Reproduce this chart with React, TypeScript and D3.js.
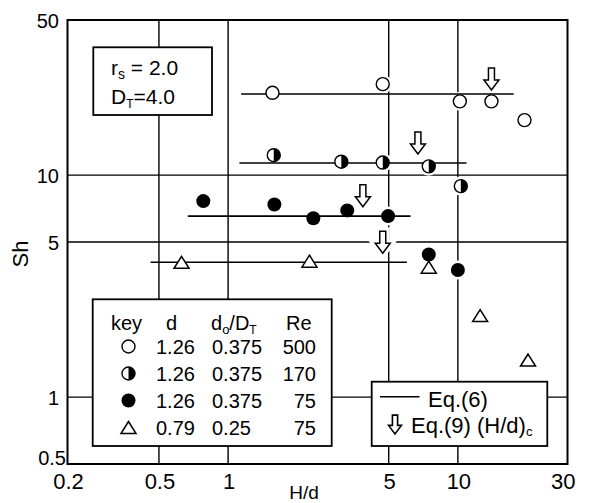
import React from "react"
import * as d3 from "d3"

// values (H/d vs Sh)
const openX = [1.56, 4.71, 10.2, 14.0, 19.5]
const openY = [23.5, 25.7, 21.5, 21.5, 17.7]
const halfX = [1.58, 3.11, 4.71, 7.47, 10.3]
const halfY = [12.3, 11.5, 11.4, 10.96, 8.93]
const fullX = [0.78, 1.59, 2.35, 3.3, 4.97, 7.47, 10.0]
const fullY = [7.64, 7.38, 6.4, 6.94, 6.54, 4.39, 3.74]
const triX = [0.627, 2.26, 7.47, 12.5, 20.2]
const triY = [4.05, 4.1, 3.85, 2.33, 1.47]

// Eq.(6) lines: start, end, level
const eqStart = [1.14, 1.12, 0.668, 0.46]
const eqEnd = [17.5, 10.9, 6.22, 6.0]
const eqLevel = [23.2, 11.35, 6.54, 4.05]

// Eq.(9) (H/d)c arrows: x and tip level
const critX = [14.0, 6.7, 3.86, 4.71]
const critTip = [24.2, 12.45, 7.21, 4.45]

const xTicks = [0.2, 0.5, 1, 5, 10, 30]
const yTicks = [50, 10, 5, 1, 0.5]
const xGrid = [0.5, 1, 5, 10]
const yGrid = [10, 5, 1]

const legendRows = [
  { key: "open", d: "1.26", ratio: "0.375", re: "500" },
  { key: "half", d: "1.26", ratio: "0.375", re: "170" },
  { key: "full", d: "1.26", ratio: "0.375", re: "75" },
  { key: "tri", d: "0.79", ratio: "0.25", re: "75" },
]

const font = "'Liberation Sans', Arial, sans-serif"

const left = 67.5, right = 567.5, top = 20, bottom = 464
const x = d3.scaleLog().domain([0.2, 30]).range([left, right])
const y = d3.scaleLog().domain([50, 0.5]).range([top, bottom])

const arrowPath = (cx: number, ty: number, k = 1) =>
  `M${cx - 3 * k},${ty - 22 * k} L${cx + 3 * k},${ty - 22 * k} L${cx + 3 * k},${ty - 10 * k} L${cx + 7.5 * k},${ty - 10 * k} L${cx},${ty} L${cx - 7.5 * k},${ty - 10 * k} L${cx - 3 * k},${ty - 10 * k} Z`

function Marker({ kind, cx, cy }: { kind: string; cx: number; cy: number }) {
  if (kind === "open")
    return <circle cx={cx} cy={cy} r={6.5} fill="white" stroke="black" strokeWidth={1.4} />
  if (kind === "half") {
    const r = 6.5
    return (
      <g>
        <circle cx={cx} cy={cy} r={r} fill="white" stroke="black" strokeWidth={1.4} />
        <path d={`M${cx},${cy - r} A${r},${r} 0 0 1 ${cx},${cy + r} Z`} fill="black" />
      </g>
    )
  }
  if (kind === "full") return <circle cx={cx} cy={cy} r={7} fill="black" />
  const h = 12, w = 15
  return (
    <path
      d={`M${cx},${cy - h / 2} L${cx + w / 2},${cy + h / 2} L${cx - w / 2},${cy + h / 2} Z`}
      fill="white"
      stroke="black"
      strokeWidth={1.5}
      strokeLinejoin="miter"
    />
  )
}

export default function App() {
  const series = [
    { kind: "open", xs: openX, ys: openY },
    { kind: "half", xs: halfX, ys: halfY },
    { kind: "full", xs: fullX, ys: fullY },
    { kind: "tri", xs: triX, ys: triY },
  ]
  const pts = series.flatMap(s => s.xs.map((v, i) => ({ kind: s.kind, cx: x(v), cy: y(s.ys[i]) })))

  return (
    <svg width={589} height={503} style={{ position: "absolute", left: 0, top: 0 }} fontFamily={font}>
      <rect width={589} height={503} fill="white" />
      {/* grid */}
      {xGrid.map(v => (
        <line key={"gx" + v} x1={x(v)} x2={x(v)} y1={top} y2={bottom} stroke="black" strokeWidth={1.4} />
      ))}
      {yGrid.map(v => (
        <line key={"gy" + v} x1={left} x2={right} y1={y(v)} y2={y(v)} stroke="black" strokeWidth={1.4} />
      ))}
      {/* knockouts round marks */}
      {pts.map((p, i) => (
        <circle key={"h" + i} cx={p.cx} cy={p.cy} r={9.5} fill="white" />
      ))}
      {critX.map((v, i) => (
        <path key={"ah" + i} d={arrowPath(x(v), y(critTip[i]))} fill="white" stroke="white" strokeWidth={8} />
      ))}
      {/* Eq.(6) lines */}
      {eqStart.map((v, i) => (
        <line key={"eq" + i} x1={x(v)} x2={x(eqEnd[i])} y1={y(eqLevel[i])} y2={y(eqLevel[i])} stroke="black" strokeWidth={1.6} />
      ))}
      {pts.map((p, i) => (
        <Marker key={"m" + i} kind={p.kind} cx={p.cx} cy={p.cy} />
      ))}
      {critX.map((v, i) => (
        <path key={"a" + i} d={arrowPath(x(v), y(critTip[i]))} fill="white" stroke="black" strokeWidth={1.5} />
      ))}
      {/* frame */}
      <rect x={left} y={top} width={right - left} height={bottom - top} fill="none" stroke="black" strokeWidth={2} />

      {/* axes labels */}
      {xTicks.map(v => (
        <text key={"xt" + v} x={v === 30 ? x(v) + 0 : x(v) + 1} y={488.5} fontSize={22} textAnchor={v === 30 ? "end" : "middle"} dx={v === 30 ? 8 : 0}>
          {v === 0.2 ? "0.2" : v === 0.5 ? "0.5" : String(v)}
        </text>
      ))}
      {yTicks.map(v => (
        <text key={"yt" + v} x={v === 0.5 ? 66 : 59} y={v === 0.5 ? 465 : y(v) + 7.5} fontSize={20} textAnchor="end">
          {String(v)}
        </text>
      ))}
      <text x={304} y={499} fontSize={19} textAnchor="middle">H/d</text>
      <text transform="translate(28,254) rotate(-90)" fontSize={22} textAnchor="middle">Sh</text>

      {/* parameter box */}
      <rect x={93.3} y={47.3} width={118.7} height={67.7} fill="white" stroke="black" strokeWidth={1.8} />
      <text x={111} y={75} fontSize={21}>
        r<tspan fontSize={14} dy={4}>s</tspan>
        <tspan dy={-4}> = 2.0</tspan>
      </text>
      <text x={111} y={104} fontSize={21}>
        D<tspan fontSize={12} dy={4}>T</tspan>
        <tspan dy={-4}>=4.0</tspan>
      </text>

      {/* key box */}
      <rect x={92.7} y={299.3} width={239} height={146.7} fill="white" stroke="black" strokeWidth={1.8} />
      <text y={330} fontSize={20}>
        <tspan x={111}>key</tspan>
        <tspan x={166}>d</tspan>
        <tspan x={211}>d</tspan>
        <tspan fontSize={13} dy={4}>o</tspan>
        <tspan dy={-4}>/D</tspan>
        <tspan fontSize={12} dy={4}>T</tspan>
        <tspan dy={-4} x={286}>Re</tspan>
      </text>
      {legendRows.map((r, i) => {
        const by = 353.5 + i * 27
        return (
          <g key={"lr" + i}>
            <Marker kind={r.key} cx={128.5} cy={by - 7} />
            <text x={156} y={by} fontSize={20}>{r.d}</text>
            <text x={212} y={by} fontSize={20}>{r.ratio}</text>
            <text x={316} y={by} fontSize={20} textAnchor="end">{r.re}</text>
          </g>
        )
      })}

      {/* equation legend */}
      <rect x={371.7} y={381.7} width={175.6} height={64.3} fill="white" stroke="black" strokeWidth={1.8} />
      <line x1={380} x2={419.5} y1={396.7} y2={396.7} stroke="black" strokeWidth={1.6} />
      <text x={428} y={406.5} fontSize={22}>Eq.(6)</text>
      <path d={arrowPath(395, 434, 0.86)} fill="white" stroke="black" strokeWidth={1.6} />
      <text x={411} y={433} fontSize={22}>
        Eq.(9) (H/d)<tspan fontSize={13} dy={3}>c</tspan>
      </text>
    </svg>
  )
}
